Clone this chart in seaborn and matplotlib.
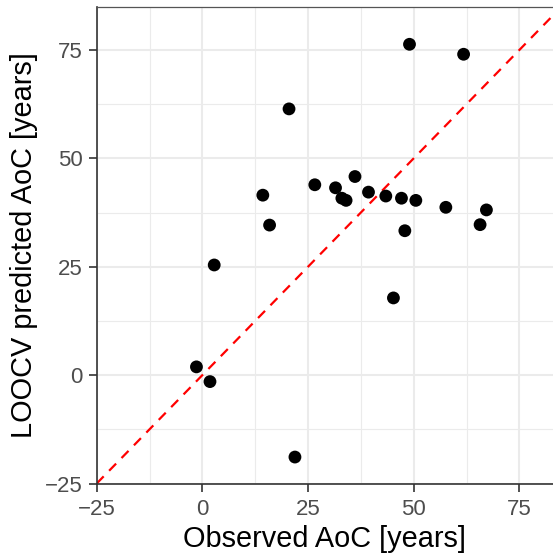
import matplotlib
matplotlib.use("Agg")
import matplotlib.pyplot as plt
import seaborn as sns
import pandas as pd

observed = [-1.4, 1.8, 2.8, 14.3, 15.9, 20.5, 21.9, 26.6, 31.5, 33.0, 34.0, 36.1,
            39.3, 43.4, 45.2, 47.1, 47.9, 49.0, 50.5, 57.6, 61.8, 65.7, 67.2]
predicted = [1.9, -1.5, 25.4, 41.5, 34.6, 61.4, -18.9, 43.9, 43.2, 40.8, 40.3, 45.8,
             42.2, 41.3, 17.8, 40.8, 33.3, 76.3, 40.3, 38.7, 74.0, 34.7, 38.1]
major_ticks = [-25, 0, 25, 50, 75]
minor_ticks = [-12.5, 12.5, 37.5, 62.5]
x_limits = [-25, 82.95]
y_limits = [-25, 84.9]

df = pd.DataFrame({"obs": observed, "pred": predicted})

sns.set_theme(style="white")
plt.rcParams['font.family'] = ['Liberation Sans', 'DejaVu Sans']

fig = plt.figure(figsize=(5.53, 5.56), dpi=100)
ax = fig.add_axes([96.7/553, 1 - 483.5/556, 1 - 96.7/553, (483.5 - 7)/556])

ax.set_xticks(major_ticks)
ax.set_yticks(major_ticks)
ax.set_xticks(minor_ticks, minor=True)
ax.set_yticks(minor_ticks, minor=True)
ax.grid(which="major", color="#EBEBEB", linewidth=1.5)
ax.grid(which="minor", color="#EBEBEB", linewidth=0.8)
ax.set_axisbelow(True)

ax.axline((0, 0), slope=1, color="red", linestyle=(0, (4.5, 3.5)), linewidth=1.6, zorder=2)
sns.scatterplot(data=df, x="obs", y="pred", ax=ax, color="black", s=85,
                edgecolor="none", zorder=3)

ax.set_xlim(x_limits)
ax.set_ylim(y_limits)

for side in ["left", "bottom"]:
    ax.spines[side].set_color("#333333")
    ax.spines[side].set_linewidth(1.2)
ax.spines["top"].set_color("#555555")
ax.spines["top"].set_linewidth(0.9)
ax.spines["right"].set_visible(False)

ax.tick_params(axis="both", which="major", length=5.5, width=1.2, color="#333333",
               labelcolor="#4D4D4D", labelsize=16, bottom=True, left=True)
ax.tick_params(axis="x", which="major", pad=5.5)
ax.tick_params(axis="y", which="major", pad=4.5)
ax.tick_params(axis="both", which="minor", length=0)

ax.set_xlabel("Observed AoC [years]", fontsize=20.8, color="black", labelpad=4)
ax.set_ylabel("LOOCV predicted AoC [years]", fontsize=20.8, color="black", labelpad=5)

fig.savefig("out.png", dpi=100)
